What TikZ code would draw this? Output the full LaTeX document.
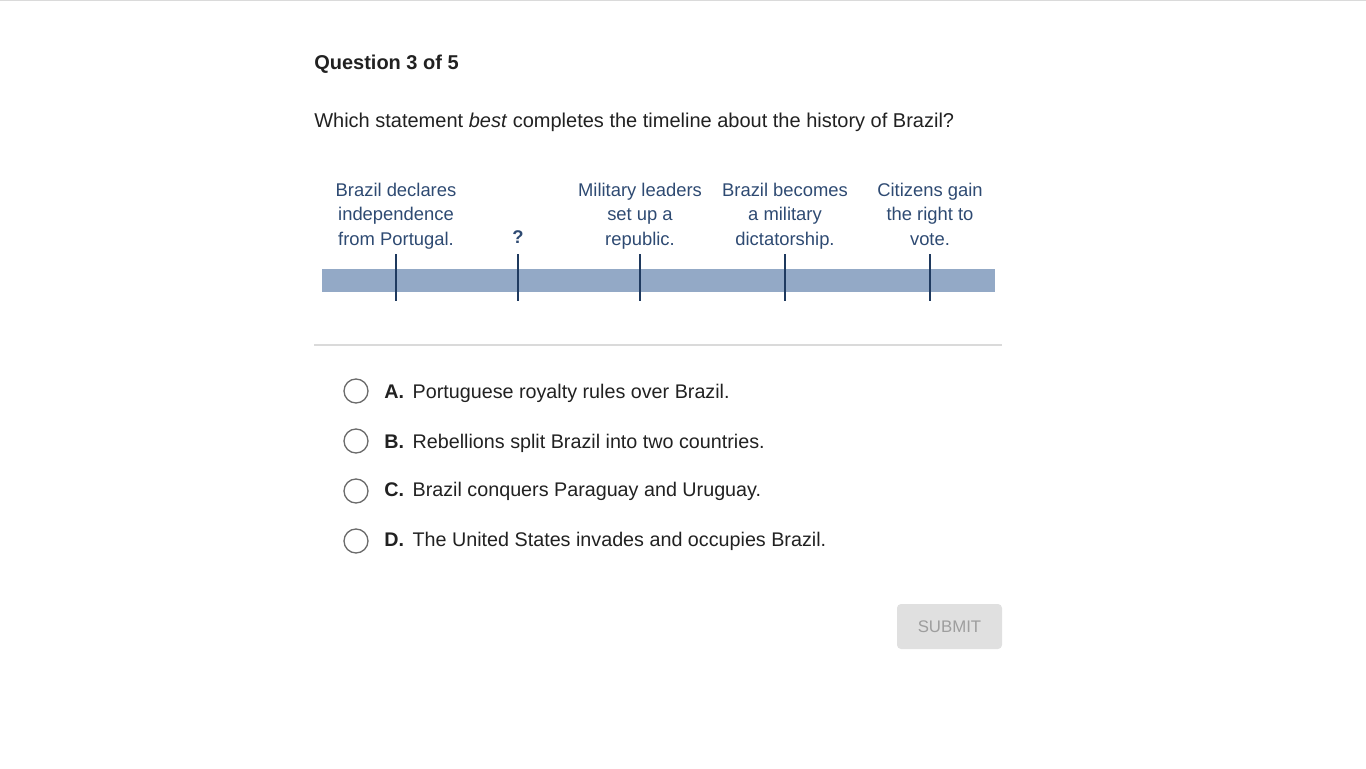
\documentclass[tikz,border=0pt]{standalone}
\usepackage{fontspec}
\setmainfont{Liberation Sans}
\usepackage{tikz}
\usetikzlibrary{positioning}

\definecolor{barblue}{HTML}{93A9C6}
\definecolor{tickblue}{HTML}{1F3A5F}
\definecolor{labelblue}{HTML}{2E4A72}
\definecolor{txtgray}{HTML}{212121}
\definecolor{rulegray}{HTML}{DADADA}
\definecolor{ringgray}{HTML}{6B6B6B}
\definecolor{btnfill}{HTML}{E0E0E0}
\definecolor{btntext}{HTML}{9E9E9E}

\tikzset{
  event/.style={align=center, inner sep=0pt, text=labelblue,
    font=\fontsize{13.8}{18.4}\selectfont},
  tick/.style={draw=tickblue, line width=1.6pt},
  radio/.style={circle, draw=ringgray, line width=1pt, minimum size=18pt, inner sep=0pt},
  choice/.style={anchor=base west, inner sep=0pt, text=txtgray,
    font=\fontsize{14.8}{17}\selectfont}
}

\begin{document}
\begin{tikzpicture}[x=0.75pt,y=-0.75pt]
    \useasboundingbox (0,0) rectangle (1366,768);
    \draw [rulegray, line width=0.5pt] (0,0.5) -- (1366,0.5);
    % heading and question
    \node [anchor=base west, inner sep=0pt, text=txtgray, font=\fontsize{15}{18}\selectfont\bfseries] (title) at (314,69) {Question 3 of 5};
    \node [anchor=base west, inner sep=0pt, text=txtgray, font=\fontsize{15}{17}\selectfont] (prompt) at (314,127) {Which statement \textit{best} completes the timeline about the history of Brazil?};
    % timeline
    \fill [barblue] (322,269) rectangle (995,292);
    \draw [tick] (396,254) -- (396,301);
    \draw [tick] (518,254) -- (518,301);
    \draw [tick] (640,254) -- (640,301);
    \draw [tick] (785,254) -- (785,301);
    \draw [tick] (930,254) -- (930,301);
    \node [event] (indep) at (396,216) {Brazil declares\\independence\\from Portugal.};
    \node [event, font=\fontsize{13.8}{18.4}\selectfont\bfseries] (unknown) at (518,237) {?};
    \node [event] (repub) at (640,216) {Military leaders\\set up a\\republic.};
    \node [event] (dict) at (785,216) {Brazil becomes\\a military\\dictatorship.};
    \node [event] (vote) at (930,214) {Citizens gain\\the right to\\vote.};
    \draw [rulegray, line width=0.8pt] (314,345) -- (1002,345);
    % answer choices
    \node [radio] (ra) at (356,391) {};
    \node [radio] (rb) at (356,441) {};
    \node [radio] (rc) at (356,491) {};
    \node [radio] (rd) at (356,541) {};
    \node [choice] (ca) at (384,398) {\textbf{A.}\hspace{6.5pt}Portuguese royalty rules over Brazil.};
    \node [choice] (cb) at (384,448) {\textbf{B.}\hspace{6.5pt}Rebellions split Brazil into two countries.};
    \node [choice] (cc) at (384,496) {\textbf{C.}\hspace{6.5pt}Brazil conquers Paraguay and Uruguay.};
    \node [choice] (cd) at (384,546) {\textbf{D.}\hspace{6.5pt}The United States invades and occupies Brazil.};
    % submit button
    \fill [btnfill, rounded corners=3pt] (897,604) rectangle (1002,649);
    \node [text=btntext, inner sep=0pt, font=\fontsize{12.6}{14}\selectfont] (submit) at (949.5,626.5) {SUBMIT};
\end{tikzpicture}
\end{document}
